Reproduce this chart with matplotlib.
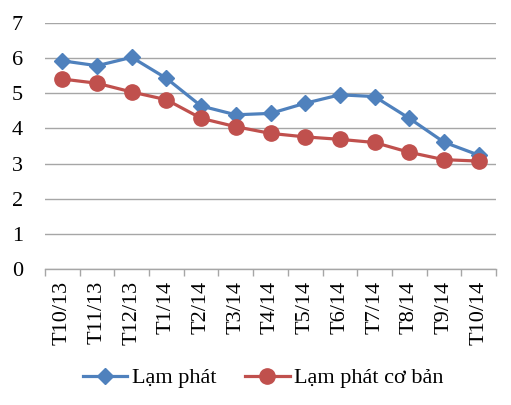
import matplotlib
matplotlib.use("Agg")
import numpy as np
import matplotlib.pyplot as plt
from matplotlib.lines import Line2D

months = ["T10/13", "T11/13", "T12/13", "T1/14", "T2/14", "T3/14", "T4/14",
          "T5/14", "T6/14", "T7/14", "T8/14", "T9/14", "T10/14"]
lam_phat = [5.93, 5.79, 6.03, 5.43, 4.64, 4.39, 4.43, 4.72, 4.96, 4.91, 4.29, 3.61, 3.24]
lam_phat_co_ban = [5.41, 5.29, 5.04, 4.82, 4.29, 4.05, 3.86, 3.76, 3.69, 3.60, 3.32, 3.11, 3.07]
yticks = [0, 1, 2, 3, 4, 5, 6, 7]

plt.rcParams["font.family"] = ["Liberation Serif", "DejaVu Serif"]

BLUE = "#4F81BD"
RED = "#C0504D"
GRID = "#A6A6A6"

fig = plt.figure(figsize=(5.11, 4.05), dpi=100)
ax = fig.add_axes([45 / 511, 1 - 268.7 / 405, 451 / 511, 245.4 / 405])

x = np.arange(len(months))
ax.plot(x, lam_phat, color=BLUE, lw=2.3, marker="D", ms=8.5, zorder=3,
        label="Lạm phát")
ax.plot(x, lam_phat_co_ban, color=RED, lw=2.3, marker="o", ms=11, zorder=3,
        label="Lạm phát cơ bản")

ax.set_xlim(-0.5, len(months) - 0.5)
ax.set_ylim(0, 7)
ax.set_yticks(yticks)
ax.set_yticklabels([str(v) for v in yticks], fontsize=16)
ax.yaxis.grid(True, color=GRID, lw=1)
ax.set_axisbelow(True)
ax.tick_params(axis="y", length=0, pad=16)

ax.set_xticks(x)
ax.set_xticklabels(months, rotation=90, fontsize=16)
ax.set_xticks(np.arange(-0.5, len(months)), minor=True)
ax.tick_params(axis="x", which="major", length=0, pad=9)
ax.tick_params(axis="x", which="minor", length=5, color=GRID, width=1)

for s in ["top", "right", "left"]:
    ax.spines[s].set_visible(False)
ax.spines["bottom"].set_color(GRID)
ax.spines["bottom"].set_linewidth(1)

handles = [
    Line2D([], [], color=BLUE, lw=2.3, marker="D", ms=8.5),
    Line2D([], [], color=RED, lw=2.3, marker="o", ms=11),
]
fig.legend(handles, ["Lạm phát", "Lạm phát cơ bản"], loc="center",
           bbox_to_anchor=(0.515, 1 - 378 / 405), ncol=2, frameon=False,
           fontsize=16, handlelength=2.0, handletextpad=0.2, columnspacing=1.3)

fig.savefig("out.png", dpi=100)
